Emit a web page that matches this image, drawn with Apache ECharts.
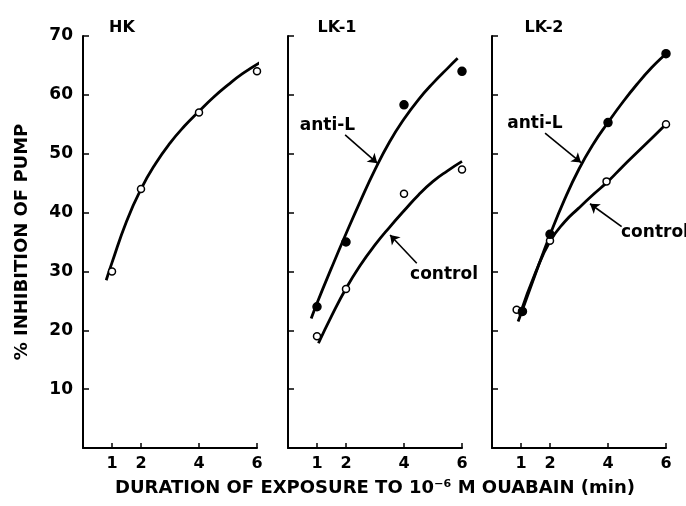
<!DOCTYPE html>
<html>
<head>
<meta charset="utf-8">
<script src="https://cdn.jsdelivr.net/npm/echarts@6.0.0/dist/echarts.min.js"></script>
<style>
  html, body { margin: 0; padding: 0; background: #fff; }
  #chart { width: 686px; height: 506px; }
</style>
</head>
<body>
<div id="chart"></div>
<script>
// panels and ticks
var panels = ['HK', 'LK-1', 'LK-2'];
var xTicks = [1, 2, 4, 6];
var yTicks = [10, 20, 30, 40, 50, 60, 70];

// measured points (minutes, % inhibition)
var hkX = [1, 2, 4, 6];
var hkY = [30, 44, 57, 64];
var lk1X = [1, 2, 4, 6];
var lk1Anti = [24, 35, 58.3, 64];
var lk1Ctrl = [19, 27, 43.2, 47.3];
var lk2AntiX = [1.05, 2, 4, 6];
var lk2Anti = [23.2, 36.3, 55.3, 67];
var lk2CtrlX = [0.85, 2, 3.95, 6];
var lk2Ctrl = [23.5, 35.2, 45.3, 55];

// hand drawn curves
var hkFit = [[0.8, 28.5], [1, 31.5], [1.5, 38.5], [2, 44], [2.5, 48.3], [3, 51.8], [3.5, 54.7], [4, 57.2], [4.5, 59.6], [5, 61.7], [5.5, 63.6], [6.1, 65.5]];
var lk1AntiFit = [[0.8, 22], [1, 24.6], [1.5, 30.6], [2, 36.4], [2.5, 42], [3, 47.3], [3.5, 52], [4, 55.9], [4.5, 59.2], [5, 62], [5.5, 64.5], [5.85, 66.2]];
var lk1CtrlFit = [[1.05, 17.8], [1.5, 22.4], [2, 27.1], [2.5, 31.1], [3, 34.5], [3.5, 37.5], [4, 40.3], [4.5, 43], [5, 45.3], [5.5, 47.1], [6, 48.7]];
var lk2AntiFit = [[0.9, 21.5], [1, 22.8], [1.5, 29.6], [2, 36.2], [2.5, 42.2], [3, 47.4], [3.5, 51.7], [4, 55.3], [4.5, 58.7], [5, 61.8], [5.5, 64.6], [6, 67], [6.3, 68.4]];
var lk2CtrlFit = [[0.95, 22.5], [1.5, 29.8], [2, 35.1], [2.5, 38.4], [3, 40.8], [3.5, 43.1], [4, 45.3], [4.5, 47.8], [5, 50.2], [5.5, 52.6], [6, 55]];

// labels and arrows: text centre, arrow start, arrow tip
var lk1Notes = [
  { text: 'anti-L', at: [1.36, 54.8], from: [1.97, 53.2], to: [3.08, 48.4] },
  { text: 'control', at: [5.38, 29.4], from: [4.44, 31.4], to: [3.52, 36.2] }
];
var lk2Notes = [
  { text: 'anti-L', at: [1.48, 55.1], from: [1.83, 53.5], to: [3.07, 48.5] },
  { text: 'control', at: [5.62, 36.6], from: [4.47, 37.6], to: [3.38, 41.5] }
];

var font = 'DejaVu Sans';
var lefts = [83, 288, 492];
var titleX = [117, 332, 539];

function zip(xs, ys) {
  return xs.map(function (x, i) { return [x, ys[i]]; });
}

var grids = lefts.map(function (l) {
  return { left: l, top: 36, width: 174, height: 412 };
});

var xAxes = lefts.map(function (l, i) {
  var ax = {
    type: 'value', gridIndex: i, min: 0, max: 6,
    axisLine: { lineStyle: { color: '#000', width: 2 } },
    axisTick: { inside: true, length: 5, customValues: xTicks, lineStyle: { color: '#000', width: 1.5 } },
    axisLabel: { customValues: xTicks, color: '#000', fontFamily: font, fontWeight: 'bold', fontSize: 16, margin: 8 },
    splitLine: { show: false }
  };
  if (i === 1) {
    ax.name = 'DURATION OF EXPOSURE TO 10\u207B\u2076 M OUABAIN (min)';
    ax.nameLocation = 'middle';
    ax.nameGap = 31;
    ax.nameTextStyle = { color: '#000', fontFamily: font, fontWeight: 'bold', fontSize: 18 };
  }
  return ax;
});

var yAxes = lefts.map(function (l, i) {
  var ax = {
    type: 'value', gridIndex: i, min: 0, max: 70, interval: 10,
    axisLine: { show: true, lineStyle: { color: '#000', width: 2 } },
    axisTick: { show: true, inside: true, length: 6, customValues: yTicks, lineStyle: { color: '#000', width: 1.5 } },
    axisLabel: { show: i === 0, customValues: yTicks, color: '#000', fontFamily: font, fontWeight: 'bold', fontSize: 17, margin: 10 },
    splitLine: { show: false }
  };
  if (i === 0) {
    ax.name = '% INHIBITION OF PUMP';
    ax.nameLocation = 'middle';
    ax.nameRotate = 90;
    ax.nameGap = 52;
    ax.nameTextStyle = { color: '#000', fontFamily: font, fontWeight: 'bold', fontSize: 18 };
  }
  return ax;
});

function curve(i, data) {
  return {
    type: 'line', xAxisIndex: i, yAxisIndex: i, data: data,
    smooth: 0.5, showSymbol: false, clip: false, silent: true,
    lineStyle: { color: '#000', width: 2.8 }
  };
}

function dots(i, data, filled) {
  return {
    type: 'scatter', xAxisIndex: i, yAxisIndex: i, data: data,
    symbol: 'circle', symbolSize: filled ? 8 : 7, z: 5,
    itemStyle: { color: filled ? '#000' : '#fff', borderColor: '#000', borderWidth: 1.5, opacity: 1 }
  };
}

function notes(i, list) {
  return {
    type: 'scatter', xAxisIndex: i, yAxisIndex: i, symbolSize: 0, silent: true,
    itemStyle: { color: '#000', opacity: 1 },
    data: list.map(function (n) { return { name: n.text, value: n.at }; }),
    label: { show: true, position: 'inside', formatter: '{b}', color: '#000', textBorderWidth: 0,
      fontFamily: font, fontWeight: 'bold', fontSize: 17 },
    markLine: {
      silent: true, symbol: ['none', 'arrow'], symbolSize: 9,
      label: { show: false },
      lineStyle: { color: '#000', width: 1.6, type: 'solid', opacity: 1, curveness: -0.15 },
      data: list.map(function (n) {
        return [{ coord: n.from }, { coord: n.to }];
      })
    }
  };
}

var option = {
  animation: false,
  backgroundColor: '#fff',
  title: panels.map(function (p, i) {
    return { text: p, left: titleX[i], top: 15, textAlign: 'center',
      textStyle: { color: '#000', fontFamily: font, fontWeight: 'bold', fontSize: 16 } };
  }),
  grid: grids,
  xAxis: xAxes,
  yAxis: yAxes,
  series: [
    curve(0, hkFit),
    dots(0, zip(hkX, hkY), false),
    curve(1, lk1AntiFit),
    curve(1, lk1CtrlFit),
    dots(1, zip(lk1X, lk1Anti), true),
    dots(1, zip(lk1X, lk1Ctrl), false),
    notes(1, lk1Notes),
    curve(2, lk2AntiFit),
    curve(2, lk2CtrlFit),
    dots(2, zip(lk2CtrlX, lk2Ctrl), false),
    dots(2, zip(lk2AntiX, lk2Anti), true),
    notes(2, lk2Notes)
  ]
};

var chart = echarts.init(document.getElementById('chart'));
chart.setOption(option);
</script>
</body>
</html>
